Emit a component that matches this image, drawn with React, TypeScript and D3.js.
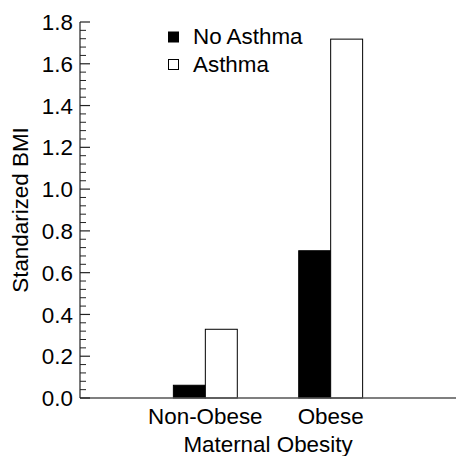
import React from "react";
import * as d3 from "d3";

const categories = ["Non-Obese", "Obese"];
const seriesNames = ["No Asthma", "Asthma"];
const noAsthma = [0.061, 0.705];
const asthma = [0.329, 1.718];
const yTicks = [0.0, 0.2, 0.4, 0.6, 0.8, 1.0, 1.2, 1.4, 1.6, 1.8];

const W = 456;
const H = 456;
const FONT = "'Liberation Sans', Arial, Helvetica, sans-serif";
const FS = 22.4;

export default function App() {
  const x = d3.scaleLinear().domain([0, 3]).range([80, 456]);
  const y = d3.scaleLinear().domain([0, 1.8]).range([398, 22]);
  const barW = x(0.255) - x(0);
  const minor = d3.range(0, 1.8 + 1e-9, 0.04).filter((v) => Math.abs(v / 0.2 - Math.round(v / 0.2)) > 1e-6);
  const series = [
    { name: seriesNames[0], values: noAsthma, fill: "#000", off: -1 },
    { name: seriesNames[1], values: asthma, fill: "#fff", off: 0 },
  ];
  return (
    <svg width={W} height={H} style={{ position: "absolute", left: 0, top: 0, background: "#fff" }} fontFamily={FONT}>
      {series.map((s) =>
        s.values.map((v, i) => {
          const cx = x(i + 1);
          return (
            <rect
              key={s.name + i}
              x={cx + s.off * barW}
              y={y(v)}
              width={barW}
              height={y(0) - y(v)}
              fill={s.fill}
              stroke="#000"
              strokeWidth={1}
            />
          );
        })
      )}
      <line x1={x(0)} x2={x(3)} y1={y(0)} y2={y(0)} stroke="#555" strokeWidth={1.5} />
      <line x1={x(0)} x2={x(0)} y1={y(1.8)} y2={y(0)} stroke="#222" strokeWidth={1.2} />
      {yTicks.map((t) => (
        <g key={"t" + t}>
          <line x1={x(0)} x2={x(0) + 10} y1={y(t)} y2={y(t)} stroke="#222" strokeWidth={1.2} />
          <text x={x(0) - 7} y={y(t)} dy="0.36em" textAnchor="end" fontSize={FS} fill="#000">
            {t.toFixed(1)}
          </text>
        </g>
      ))}
      {minor.map((t) => (
        <line key={"m" + t} x1={x(0)} x2={x(0) + 6} y1={y(t)} y2={y(t)} stroke="#222" strokeWidth={1} />
      ))}
      {categories.map((c, i) => (
        <text key={c} x={x(i + 1)} y={424} textAnchor="middle" fontSize={FS} fill="#000">
          {c}
        </text>
      ))}
      <text x={(x(0) + x(3)) / 2} y={452} textAnchor="middle" fontSize={FS} fill="#000">
        Maternal Obesity
      </text>
      <text transform={`translate(28, ${(y(0) + y(1.8)) / 2}) rotate(-90)`} textAnchor="middle" fontSize={FS} fill="#000">
        Standarized BMI
      </text>
      {series.map((s, i) => (
        <g key={"l" + s.name}>
          <rect x={168.5} y={32 + i * 27.5} width={10} height={10} fill={s.fill} stroke="#000" strokeWidth={1} />
          <text x={193} y={44 + i * 27.5} fontSize={FS} fill="#000">
            {s.name}
          </text>
        </g>
      ))}
    </svg>
  );
}
